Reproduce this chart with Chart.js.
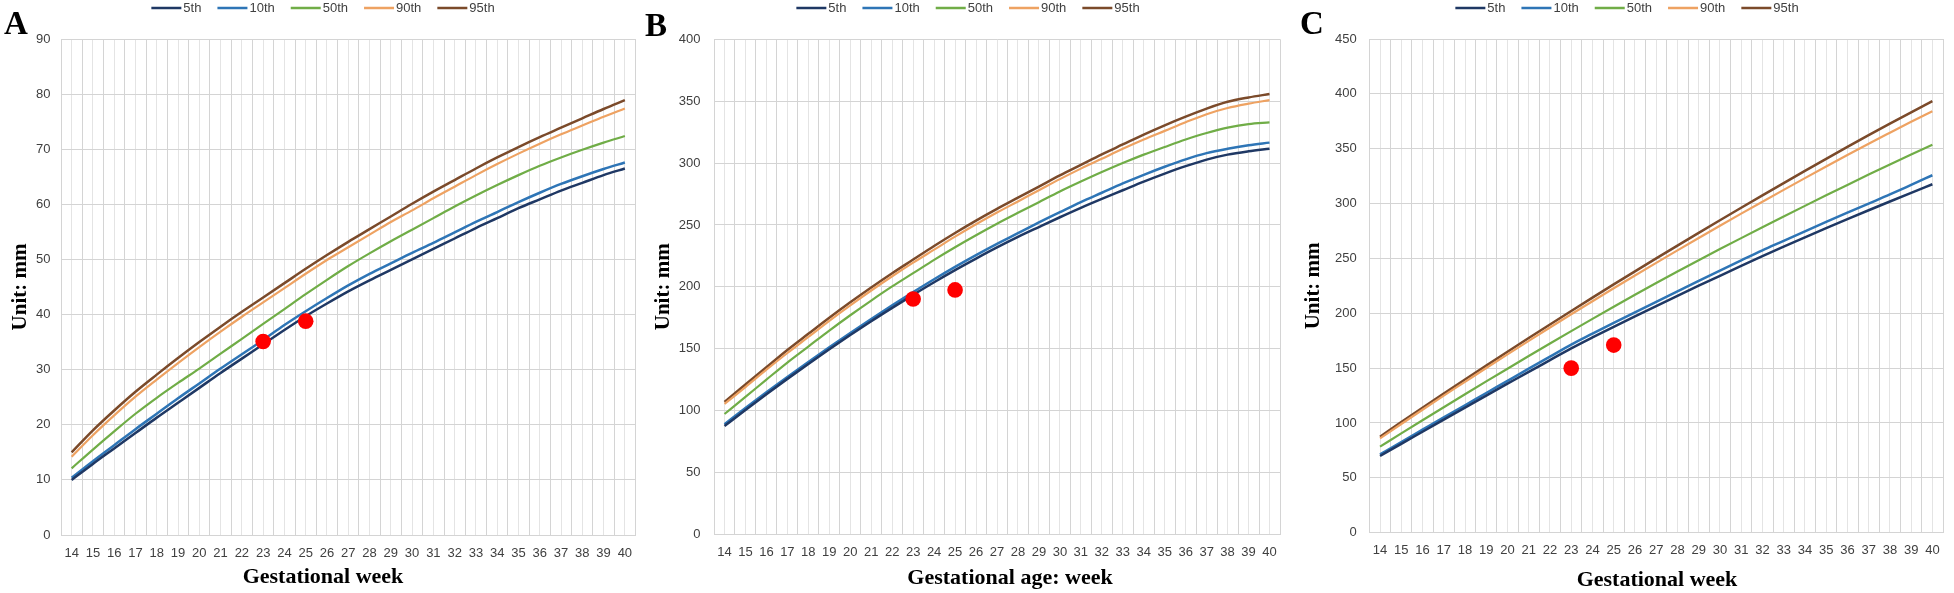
<!DOCTYPE html>
<html>
<head>
<meta charset="utf-8">
<script src="https://cdn.jsdelivr.net/npm/chart.js@4.4.1/dist/chart.umd.min.js"></script>
<style>
html,body{margin:0;padding:0;background:#fff;}
#wrap{position:relative;width:1954px;height:593px;overflow:hidden;background:#fff;}
.panel{position:absolute;top:0;height:593px;}
.letter{position:absolute;font-family:"Liberation Serif","Times New Roman",serif;font-weight:bold;font-size:33px;line-height:1;color:#000;}
</style>
</head>
<body>
<div id="wrap">
  <div class="panel" style="left:0px;width:650px"><canvas id="cA"></canvas></div>
  <div class="panel" style="left:650px;width:650px"><canvas id="cB"></canvas></div>
  <div class="panel" style="left:1300px;width:654px"><canvas id="cC"></canvas></div>
  <div class="letter" style="left:4px;top:7px">A</div>
  <div class="letter" style="left:645px;top:9px">B</div>
  <div class="letter" style="left:1300px;top:7px">C</div>
</div>
<script>
// ---------- data ----------
const weeks = ['14','15','16','17','18','19','20','21','22','23','24','25','26','27','28','29','30','31','32','33','34','35','36','37','38','39','40'];
const seriesNames = ['5th','10th','50th','90th','95th'];
const dotWeeks = ['23','25'];

// Panel A
const A_p5  = [10.0,12.9,15.7,18.5,21.3,24.0,26.7,29.4,32.0,34.6,37.2,39.7,42.0,44.2,46.2,48.1,50.0,51.9,53.8,55.7,57.5,59.3,60.9,62.5,63.9,65.3,66.5];
const A_p10 = [10.4,13.4,16.3,19.2,22.0,24.8,27.5,30.2,32.8,35.4,38.1,40.6,43.0,45.3,47.4,49.3,51.2,53.0,54.9,56.8,58.6,60.4,62.1,63.7,65.1,66.4,67.6];
const A_p50 = [12.1,15.5,18.8,22.0,24.9,27.6,30.2,32.9,35.6,38.3,41.0,43.7,46.3,48.8,51.1,53.3,55.4,57.5,59.6,61.6,63.5,65.3,67.0,68.5,69.9,71.2,72.4];
const A_p90 = [14.2,18.1,21.7,25.1,28.2,31.2,34.1,36.9,39.6,42.2,44.8,47.4,49.9,52.2,54.5,56.8,58.9,61.1,63.2,65.3,67.3,69.2,71.0,72.7,74.3,75.9,77.4];
const A_p95 = [15.0,19.0,22.6,26.0,29.1,32.1,35.0,37.8,40.5,43.1,45.7,48.3,50.8,53.2,55.5,57.8,60.1,62.3,64.4,66.5,68.5,70.4,72.2,73.9,75.6,77.3,78.9];
const A_dots = [35.1, 38.8];

// Panel B
const B_p5  = [87.5,100.5,113.2,125.6,137.7,149.5,161,172.2,183,193.5,203.7,213.5,222.8,231.8,240.3,248.3,256.2,263.8,271,278,285,291.5,297.5,302.8,306.8,309.5,311.6];
const B_p10 = [89,102,114.7,127.1,139.2,151.1,162.7,174,185,195.7,206.1,216.1,225.6,234.7,243.3,252,260.3,268.5,276,283.5,290.5,297,303,308,311.5,314.3,316.5];
const B_p50 = [97.2,111,125,138.8,151.7,164.6,177,188.9,200.3,211,221.8,232,241.7,251,259.8,268.4,277,285,292.7,300,306.8,313,319,324.3,328.6,331.5,332.9];
const B_p90 = [105.4,119,133,146.5,159.5,172.5,185,197,208.5,219.5,230,240.5,250.5,260,269,278,287,295.5,303.5,311.5,319,326,333,339.5,344.5,348,350.9];
const B_p95 = [107,121,135,149,162,175,187.5,199.5,211,222,233,243.5,253.5,263,272,281,290,298.5,307,315,323,330.5,337.5,344,349.5,353,355.8];
const B_dots = [190.2, 197.5];

// Panel C
const C_p5  = [69.9,81,92,103,114,125,135.8,146.6,157.3,168,178,187.7,197.2,206.6,215.9,225.1,234.2,243.2,252,260.7,269.2,277.6,285.8,293.9,301.9,309.8,317.6];
const C_p10 = [71.4,82.7,93.9,105.1,116.2,127.3,138.4,149.5,160.5,171.5,181.4,191.2,200.9,210.5,220,229.5,238.9,248.2,257.4,266,274.7,283.3,291.7,300,308.3,317,325.8];
const C_p50 = [78.4,90.5,102.5,114.4,126.2,137.9,149.5,161,172.4,183.7,194.9,206,216.9,227.6,238.1,248.4,258.5,268.5,278.4,288.2,297.9,307.5,317,326.4,335.6,344.7,353.6];
const C_p90 = [85.9,99.1,112.1,124.9,137.5,150.1,162.5,174.8,187,199.1,211,222.8,234.4,245.9,257.3,268.6,279.8,290.8,301.7,312.5,323.2,333.8,344.3,354.6,364.6,374.5,384.2];
const C_p95 = [87.5,100.8,113.9,126.8,139.6,152.3,164.9,177.4,189.8,202.1,214.3,226.3,238.2,250,261.7,273.3,284.8,296.2,307.5,318.7,329.8,340.8,351.7,362.4,372.9,383.2,393.3];
const C_dots = [150, 171];

const yTitle = 'Unit: mm';
const xTitles = ['Gestational week', 'Gestational age: week', 'Gestational week'];

// ---------- styles ----------
const lineColors = ['#1F3864', '#2E75B6', '#70AD47', '#EEA262', '#7B4A2A'];
const lineWidths = [2.5, 2.5, 2.2, 2.2, 2.5];
const gridMajor = '#d4d4d4';
const gridMinor = '#e4e4e4';
const tickColor = '#404040';

Chart.defaults.font.family = '"Liberation Sans", Arial, sans-serif';

const decor = {
  id: 'decor',
  afterDraw(chart, args, opts) {
    const ctx = chart.ctx;
    ctx.save();
    ctx.font = '13px "Liberation Sans", Arial, sans-serif';
    const items = chart.data.datasets.filter(d => d.isPercentile);
    const lineLen = 30, gap = 2, spacing = 16;
    const widths = items.map(d => ctx.measureText(d.label).width);
    let total = 0;
    widths.forEach((w, i) => { total += lineLen + gap + w + (i ? spacing : 0); });
    let x = opts.legendCX - total / 2;
    const y = 8;
    items.forEach((d, i) => {
      ctx.strokeStyle = d.borderColor;
      ctx.lineWidth = 2.5;
      ctx.beginPath();
      ctx.moveTo(x, y);
      ctx.lineTo(x + lineLen, y);
      ctx.stroke();
      ctx.fillStyle = tickColor;
      ctx.textAlign = 'left';
      ctx.textBaseline = 'middle';
      ctx.fillText(d.label, x + lineLen + gap, y + 0.5);
      x += lineLen + gap + widths[i] + spacing;
    });
    ctx.font = 'bold 22px "Liberation Serif", "Times New Roman", serif';
    ctx.fillStyle = '#000';
    ctx.textAlign = 'center';
    ctx.textBaseline = 'middle';
    ctx.fillText(opts.xTitle, opts.xTitleX, opts.xTitleY);
    ctx.restore();
  }
};

function makePanel(p) {
  const percentiles = [p.p5, p.p10, p.p50, p.p90, p.p95];
  const datasets = [{
    label: 'case',
    isPercentile: false,
    xAxisID: 'x',
    data: dotWeeks.map((w, i) => ({x: w, y: p.dots[i]})),
    showLine: false,
    pointRadius: 7.8,
    pointHoverRadius: 7.8,
    pointBackgroundColor: '#FF0000',
    pointBorderWidth: 0,
    borderColor: '#FF0000'
  }];
  percentiles.forEach((arr, i) => {
    datasets.push({
      label: seriesNames[i],
      isPercentile: true,
      xAxisID: 'x',
      data: arr,
      borderColor: lineColors[i],
      backgroundColor: lineColors[i],
      borderWidth: lineWidths[i],
      pointRadius: 0,
      cubicInterpolationMode: 'monotone',
      fill: false
    });
  });
  return new Chart(document.getElementById(p.id), {
    type: 'line',
    data: { labels: weeks, datasets },
    plugins: [decor],
    options: {
      responsive: true,
      maintainAspectRatio: false,
      animation: false,
      events: [],
      layout: { padding: { top: p.top, right: p.padRight, left: 0, bottom: 0 } },
      plugins: {
        legend: { display: false },
        tooltip: { enabled: false },
        decor: { legendCX: p.legendCX, xTitle: p.xTitle, xTitleX: p.xTitleX, xTitleY: p.xTitleY }
      },
      scales: {
        x: {
          type: 'category',
          position: 'bottom',
          offset: true,
          grid: { offset: true, color: gridMajor, lineWidth: 1, drawTicks: false },
          border: { color: gridMajor },
          ticks: { padding: p.tickPadX, maxRotation: 0, minRotation: 0, autoSkip: false, color: tickColor, font: { size: 13 } },
          afterFit: s => { s.height = p.xHeight; }
        },
        x2: {
          type: 'category',
          position: 'bottom',
          labels: weeks,
          offset: true,
          grid: { offset: false, color: gridMinor, lineWidth: 1, drawTicks: false },
          border: { display: false },
          ticks: { display: false },
          afterFit: s => { s.height = 0; }
        },
        y: {
          min: 0,
          max: p.yMax,
          grid: { color: gridMajor, lineWidth: 1, drawTicks: false },
          border: { color: gridMajor },
          ticks: { stepSize: p.yStep, padding: p.tickPadY, color: tickColor, font: { size: 13 } },
          title: {
            display: true,
            text: yTitle,
            color: '#000',
            font: { family: '"Liberation Serif", "Times New Roman", serif', size: 21, weight: 'bold', lineHeight: 1 },
            padding: { top: p.yTitlePad, bottom: 0 }
          },
          afterFit: s => { s.width = p.yLeft; }
        }
      }
    }
  });
}

makePanel({ id: 'cA', p5: A_p5, p10: A_p10, p50: A_p50, p90: A_p90, p95: A_p95, dots: A_dots,
  yMax: 90, yStep: 10, top: 39, padRight: 14.5, yLeft: 61, xHeight: 58, tickPadX: 11, tickPadY: 10.5,
  yTitlePad: 10, legendCX: 323, xTitle: xTitles[0], xTitleX: 323, xTitleY: 577 });
makePanel({ id: 'cB', p5: B_p5, p10: B_p10, p50: B_p50, p90: B_p90, p95: B_p95, dots: B_dots,
  yMax: 400, yStep: 50, top: 39.3, padRight: 20, yLeft: 64, xHeight: 58.7, tickPadX: 10, tickPadY: 13.5,
  yTitlePad: 3, legendCX: 318, xTitle: xTitles[1], xTitleX: 360, xTitleY: 578 });
makePanel({ id: 'cC', p5: C_p5, p10: C_p10, p50: C_p50, p90: C_p90, p95: C_p95, dots: C_dots,
  yMax: 450, yStep: 50, top: 39, padRight: 11, yLeft: 69.4, xHeight: 60.3, tickPadX: 10, tickPadY: 12.6,
  yTitlePad: 3, legendCX: 327, xTitle: xTitles[2], xTitleX: 357, xTitleY: 580 });
</script>
</body>
</html>
